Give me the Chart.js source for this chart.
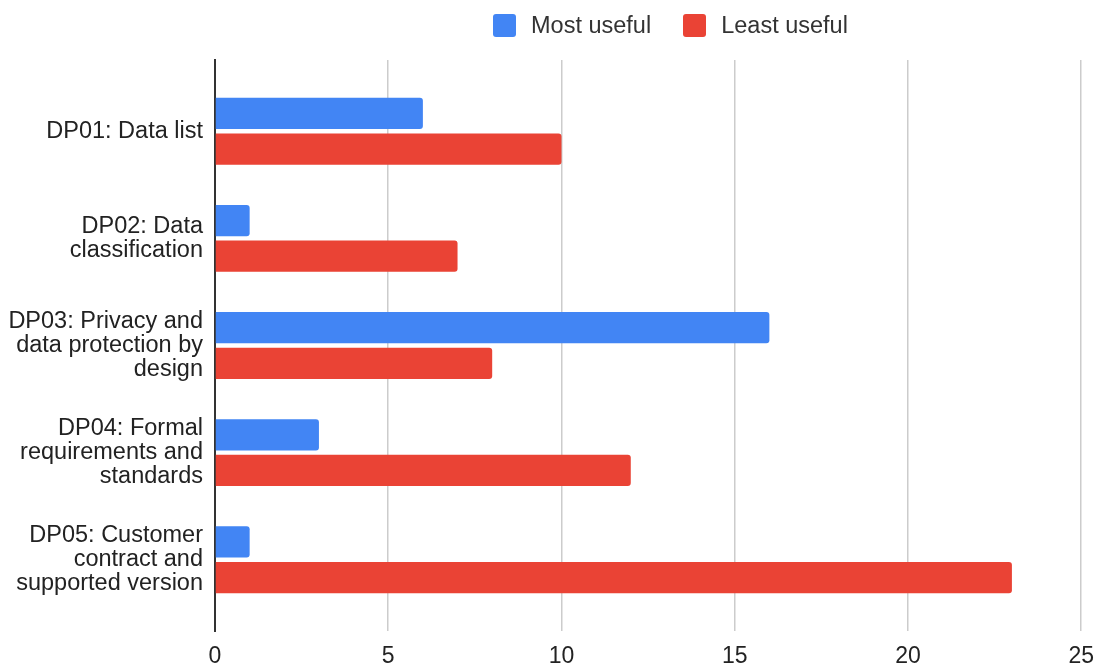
<!DOCTYPE html>
<html>
<head>
<meta charset="utf-8">
<script src="https://cdn.jsdelivr.net/npm/chart.js@4"></script>
<style>
  html, body { margin: 0; padding: 0; background: #fff; }
  #wrap { position: relative; width: 1106px; height: 664px; }
  #legend { position: absolute; top: 12px; left: 493px; display: flex; align-items: center;
    font: 23.5px "Liberation Sans", Arial, sans-serif; color: #333; }
  #legend .it { display: flex; align-items: center; }
  #legend .it + .it { margin-left: 32px; }
  #legend .sw { width: 23px; height: 23px; border-radius: 3px; margin-right: 15px; }
</style>
</head>
<body>
<div id="wrap">
  <canvas id="c" width="1106" height="664"></canvas>
  <div id="legend"></div>
</div>
<script>
// 데이터
const CATEGORIES = [
  ['DP01: Data list'],
  ['DP02: Data', 'classification'],
  ['DP03: Privacy and', 'data protection by', 'design'],
  ['DP04: Formal', 'requirements and', 'standards'],
  ['DP05: Customer', 'contract and', 'supported version'],
];
const MOST_USEFUL = [6, 1, 16, 3, 1];
const LEAST_USEFUL = [10, 7, 8, 12, 23];
const X_TICKS = [0, 5, 10, 15, 20, 25];

const FONT = '"Liberation Sans", Arial, sans-serif';
const toPts = arr => arr.map((v, i) => ({x: v, y: i}));

const datasets = [
  {label: 'Most useful', data: toPts(MOST_USEFUL), backgroundColor: '#4285F4'},
  {label: 'Least useful', data: toPts(LEAST_USEFUL), backgroundColor: '#EA4335'},
].map(d => ({...d, borderRadius: 3, categoryPercentage: 0.666, barPercentage: 0.875}));

const chart = new Chart(document.getElementById('c'), {
  type: 'bar',
  data: {datasets},
  options: {
    indexAxis: 'y', responsive: false, animation: false,
    layout: {padding: {top: 60, right: 21, bottom: 0, left: 0}},
    plugins: {legend: {display: false}, tooltip: {enabled: false}},
    scales: {
      x: {
        type: 'linear', min: X_TICKS[0], max: X_TICKS.at(-1),
        afterBuildTicks: s => { s.ticks = X_TICKS.map(v => ({value: v})); },
        afterFit: s => { s.height = 33; },
        grid: {color: '#cccccc', lineWidth: 1.5, drawTicks: false},
        border: {display: false},
        ticks: {color: '#222', font: {family: FONT, size: 23}, padding: 12},
      },
      y: {
        type: 'linear', reverse: true, offset: false, min: -0.665, max: 4.665,
        afterBuildTicks: s => { s.ticks = CATEGORIES.map((_, i) => ({value: i})); },
        afterFit: s => { s.width = 215; },
        grid: {display: false, drawTicks: false, offset: false},
        border: {color: '#333', width: 2},
        ticks: {color: '#222', autoSkip: false, padding: 12,
          font: {family: FONT, size: 23.5, lineHeight: '24px'},
          callback: v => CATEGORIES[v]},
      },
    },
  },
});

// 범례 (HTML)
document.getElementById('legend').innerHTML = chart.data.datasets.map(d =>
  `<div class="it"><span class="sw" style="background:${d.backgroundColor}"></span>${d.label}</div>`).join('');
</script>
</body>
</html>
